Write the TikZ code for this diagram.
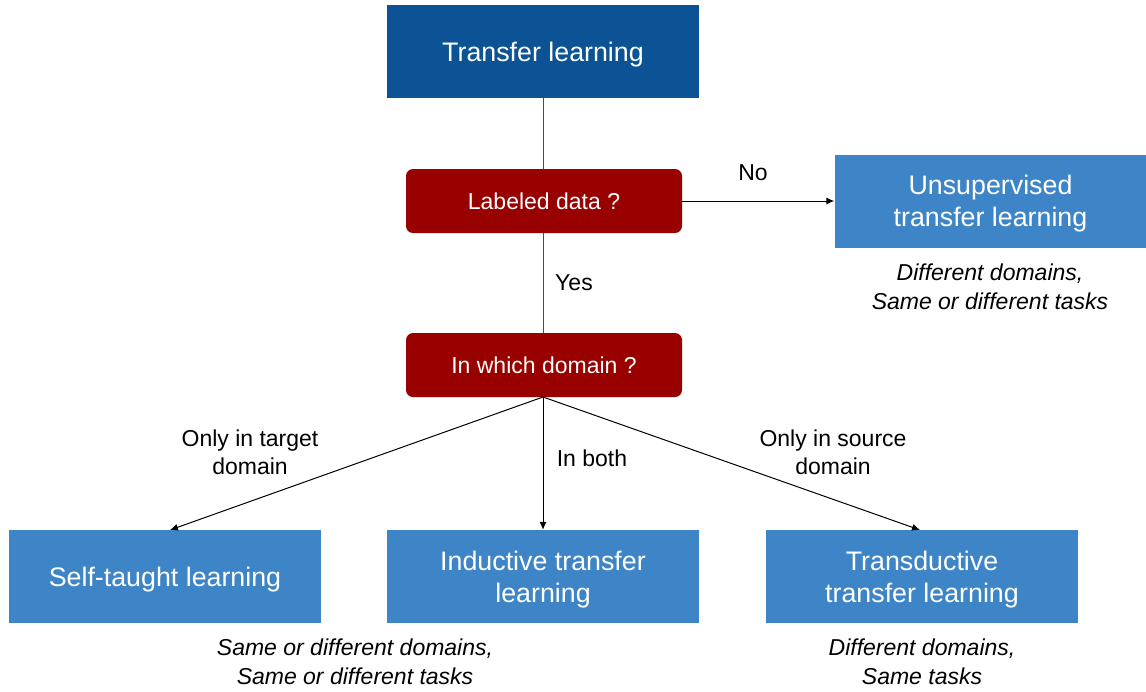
\documentclass[tikz,border=0pt]{standalone}
\usepackage{fontspec}
\setmainfont{Liberation Sans}
\usetikzlibrary{arrows.meta}
\definecolor{darkblue}{HTML}{0B5394}
\definecolor{midblue}{HTML}{3D85C6}
\definecolor{darkred}{HTML}{990000}
\begin{document}
\begin{tikzpicture}[x=1pt,y=-1pt,
  bigbox/.style={fill=midblue,draw=none,minimum width=312pt,minimum height=93pt,inner sep=0pt},
  boxtext/.style={text=white,align=center,inner sep=0pt,font=\fontsize{26.8}{32}\selectfont},
  qbox/.style={fill=darkred,draw=none,rounded corners=7pt,text=white,minimum width=276pt,minimum height=64pt,inner sep=0pt,font=\fontsize{23}{28}\selectfont},
  lbl/.style={align=center,font=\fontsize{23}{28}\selectfont,inner sep=0pt},
  note/.style={align=center,font=\itshape\fontsize{23}{29}\selectfont,inner sep=0pt},
  conn/.style={draw=black!70,line width=1pt},
  arr/.style={draw=black,line width=1pt,-{Latex[length=8pt,width=7pt]}}]
\useasboundingbox (0,0) rectangle (1146,691);
\node[bigbox,fill=darkblue] (tl) at (543,51.5) {};
\node[qbox] (ld) at (544,201) {Labeled data ?};
\node[bigbox] (ut) at (990.5,201) {};
\node[qbox] (wd) at (544,365) {In which domain ?};
\node[bigbox] (st) at (165,576.5) {};
\node[bigbox] (it) at (543,576.5) {};
\node[bigbox] (tt) at (922,576.5) {};
\node[boxtext] (tlt) at ([yshift=-3pt]tl.center) {Transfer learning};
\node[boxtext] (utt) at ([yshift=-2.5pt]ut.center) {Unsupervised\\transfer learning};
\node[boxtext] (stx) at ([yshift=-3pt]st.center) {Self-taught learning};
\node[boxtext] (itx) at ([yshift=-3pt]it.center) {Inductive transfer\\learning};
\node[boxtext] (ttx) at ([yshift=-3pt]tt.center) {Transductive\\transfer learning};
\coordinate (stt) at (170,530);
\coordinate (ttt) at (920,530);
\draw[conn] (tl.south) -- (tl.south |- ld.north);
\draw[conn] (tl.south |- ld.south) -- (tl.south |- wd.north);
\draw[arr] (ld.east) -- (ut.west);
\coordinate (wds) at (543,397);
\draw[arr] (wds) -- (stt);
\draw[arr] (wds) -- (it.north);
\draw[arr] (wds) -- (ttt);
\node[lbl] (no) at (753,173) {No};
\node[lbl] (yes) at (574,283) {Yes};
\node[lbl] (l1) at (250,452) {Only in target\\domain};
\node[lbl] (l2) at (592,458) {In both};
\node[lbl] (l3) at (833,452) {Only in source\\domain};
\node[note] (n1) at (990,287) {Different domains,\\Same or different tasks};
\node[note] (n2) at (355,662) {Same or different domains,\\Same or different tasks};
\node[note] (n3) at (922,662) {Different domains,\\Same tasks};
\end{tikzpicture}
\end{document}
